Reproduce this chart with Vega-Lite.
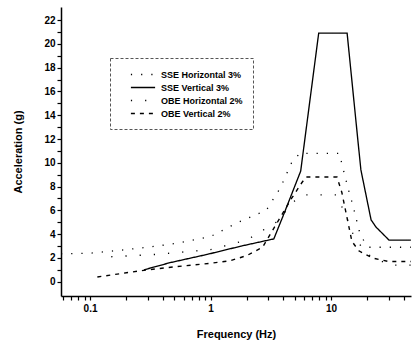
{
  "$schema": "https://vega.github.io/schema/vega-lite/v6.json",
  "width": 350,
  "height": 289,
  "autosize": {"type": "none"},
  "padding": {"left": 61, "top": 7, "right": 1, "bottom": 47},
  "background": "white",
  "config": {
    "view": {"stroke": null},
    "font": "Liberation Sans",
    "axis": {"domainColor": "black", "domainWidth": 1.5, "tickColor": "black", "tickWidth": 1.2, "labelFont": "Liberation Sans", "labelFontWeight": "bold", "labelFontSize": 10, "labelColor": "black", "titleFont": "Liberation Sans", "titleFontWeight": "bold", "titleFontSize": 11, "titleColor": "black", "grid": false},
    "legend": {"strokeDash": [3, 2], "strokeColor": "#555", "fillColor": "white"}
  },
  "data": {"values": [
    {"series": "SSE Horizontal 3%", "f": 0.0574, "acc": 2.35},
    {"series": "SSE Horizontal 3%", "f": 0.1, "acc": 2.4},
    {"series": "SSE Horizontal 3%", "f": 0.2, "acc": 2.7},
    {"series": "SSE Horizontal 3%", "f": 0.3, "acc": 2.9},
    {"series": "SSE Horizontal 3%", "f": 0.5, "acc": 3.2},
    {"series": "SSE Horizontal 3%", "f": 1.0, "acc": 3.8},
    {"series": "SSE Horizontal 3%", "f": 1.7, "acc": 5.0},
    {"series": "SSE Horizontal 3%", "f": 2.9, "acc": 6.0},
    {"series": "SSE Horizontal 3%", "f": 3.8, "acc": 7.9},
    {"series": "SSE Horizontal 3%", "f": 4.7, "acc": 10.0},
    {"series": "SSE Horizontal 3%", "f": 5.5, "acc": 10.8},
    {"series": "SSE Horizontal 3%", "f": 11.7, "acc": 10.8},
    {"series": "SSE Horizontal 3%", "f": 13.8, "acc": 7.9},
    {"series": "SSE Horizontal 3%", "f": 15.3, "acc": 6.3},
    {"series": "SSE Horizontal 3%", "f": 17.1, "acc": 4.3},
    {"series": "SSE Horizontal 3%", "f": 18.8, "acc": 3.4},
    {"series": "SSE Horizontal 3%", "f": 20.6, "acc": 2.9},
    {"series": "SSE Horizontal 3%", "f": 46, "acc": 2.9},
    {"series": "SSE Vertical 3%", "f": 0.28, "acc": 1.0},
    {"series": "SSE Vertical 3%", "f": 0.46, "acc": 1.6},
    {"series": "SSE Vertical 3%", "f": 0.94, "acc": 2.3},
    {"series": "SSE Vertical 3%", "f": 1.8, "acc": 3.0},
    {"series": "SSE Vertical 3%", "f": 3.35, "acc": 3.6},
    {"series": "SSE Vertical 3%", "f": 4.1, "acc": 5.8},
    {"series": "SSE Vertical 3%", "f": 5.6, "acc": 9.3},
    {"series": "SSE Vertical 3%", "f": 7.9, "acc": 20.9},
    {"series": "SSE Vertical 3%", "f": 13.6, "acc": 20.9},
    {"series": "SSE Vertical 3%", "f": 16.7, "acc": 11.9},
    {"series": "SSE Vertical 3%", "f": 17.7, "acc": 9.4},
    {"series": "SSE Vertical 3%", "f": 21.5, "acc": 5.2},
    {"series": "SSE Vertical 3%", "f": 23.6, "acc": 4.6},
    {"series": "SSE Vertical 3%", "f": 30.3, "acc": 3.5},
    {"series": "SSE Vertical 3%", "f": 46, "acc": 3.5},
    {"series": "OBE Horizontal 2%", "f": 0.15, "acc": 2.1},
    {"series": "OBE Horizontal 2%", "f": 0.36, "acc": 2.3},
    {"series": "OBE Horizontal 2%", "f": 1.0, "acc": 2.7},
    {"series": "OBE Horizontal 2%", "f": 2.0, "acc": 3.5},
    {"series": "OBE Horizontal 2%", "f": 3.5, "acc": 5.0},
    {"series": "OBE Horizontal 2%", "f": 5.0, "acc": 6.8},
    {"series": "OBE Horizontal 2%", "f": 6.0, "acc": 7.3},
    {"series": "OBE Horizontal 2%", "f": 11.0, "acc": 7.3},
    {"series": "OBE Horizontal 2%", "f": 13.0, "acc": 5.8},
    {"series": "OBE Horizontal 2%", "f": 15.5, "acc": 3.8},
    {"series": "OBE Horizontal 2%", "f": 19.9, "acc": 2.3},
    {"series": "OBE Horizontal 2%", "f": 22.4, "acc": 2.1},
    {"series": "OBE Horizontal 2%", "f": 27.8, "acc": 1.6},
    {"series": "OBE Horizontal 2%", "f": 30.6, "acc": 1.4},
    {"series": "OBE Horizontal 2%", "f": 46, "acc": 1.4},
    {"series": "OBE Vertical 2%", "f": 0.115, "acc": 0.4},
    {"series": "OBE Vertical 2%", "f": 0.2, "acc": 0.75},
    {"series": "OBE Vertical 2%", "f": 0.3, "acc": 1.0},
    {"series": "OBE Vertical 2%", "f": 0.5, "acc": 1.25},
    {"series": "OBE Vertical 2%", "f": 1.0, "acc": 1.55},
    {"series": "OBE Vertical 2%", "f": 1.45, "acc": 1.76},
    {"series": "OBE Vertical 2%", "f": 2.0, "acc": 2.2},
    {"series": "OBE Vertical 2%", "f": 2.7, "acc": 2.9},
    {"series": "OBE Vertical 2%", "f": 4.7, "acc": 7.0},
    {"series": "OBE Vertical 2%", "f": 5.7, "acc": 8.3},
    {"series": "OBE Vertical 2%", "f": 6.2, "acc": 8.8},
    {"series": "OBE Vertical 2%", "f": 11.2, "acc": 8.8},
    {"series": "OBE Vertical 2%", "f": 12.3, "acc": 7.5},
    {"series": "OBE Vertical 2%", "f": 13.5, "acc": 5.5},
    {"series": "OBE Vertical 2%", "f": 14.9, "acc": 3.4},
    {"series": "OBE Vertical 2%", "f": 17, "acc": 2.6},
    {"series": "OBE Vertical 2%", "f": 22, "acc": 2.0},
    {"series": "OBE Vertical 2%", "f": 30, "acc": 1.7},
    {"series": "OBE Vertical 2%", "f": 46, "acc": 1.7}
  ]},
  "mark": {"type": "line", "color": "black", "clip": true, "strokeCap": "butt"},
  "encoding": {
    "x": {"field": "f", "type": "quantitative",
      "scale": {"type": "log", "domain": [0.0574, 46.1], "nice": false},
      "axis": {"title": "Frequency (Hz)", "values": [0.06,0.07,0.08,0.09,0.1,0.2,0.3,0.4,0.5,0.6,0.7,0.8,0.9,1,2,3,4,5,6,7,8,9,10,20,30,40],
        "labelExpr": "datum.value == 0.1 ? '0.1' : (datum.value == 1 ? '1' : (datum.value == 10 ? '10' : ''))",
        "tickSize": 4, "labelPadding": 3, "titlePadding": 15, "labelFlush": false}},
    "y": {"field": "acc", "type": "quantitative",
      "scale": {"domain": [-1.2, 23.1], "nice": false, "zero": false},
      "axis": {"title": "Acceleration (g)", "values": [0,1,2,3,4,5,6,7,8,9,10,11,12,13,14,15,16,17,18,19,20,21,22],
        "labelExpr": "datum.value % 2 == 0 ? datum.label : ''", "tickSize": 4, "labelPadding": 2, "titlePadding": 20}},
    "order": {"field": "f", "type": "quantitative"},
    "strokeDash": {"field": "series", "type": "nominal",
      "scale": {"domain": ["SSE Horizontal 3%", "SSE Vertical 3%", "OBE Horizontal 2%", "OBE Vertical 2%"],
        "range": [[1.2, 9], [1, 0], [1.2, 13], [4, 5]]},
      "legend": {"title": null, "orient": "none", "legendX": 49, "legendY": 51,
        "symbolType": "M0.8,0H5.2", "symbolSize": 121, "symbolStrokeColor": "black", "symbolStrokeWidth": 1.2,
        "labelFont": "Liberation Sans", "labelFontWeight": "bold", "labelFontSize": 9, "labelColor": "black",
        "labelOffset": 28, "rowPadding": 1, "padding": 10}},
    "strokeWidth": {"field": "series", "type": "nominal",
      "scale": {"domain": ["SSE Horizontal 3%", "SSE Vertical 3%", "OBE Horizontal 2%", "OBE Vertical 2%"], "range": [1.3, 1.4, 1.3, 1.0]},
      "legend": null}
  }
}
